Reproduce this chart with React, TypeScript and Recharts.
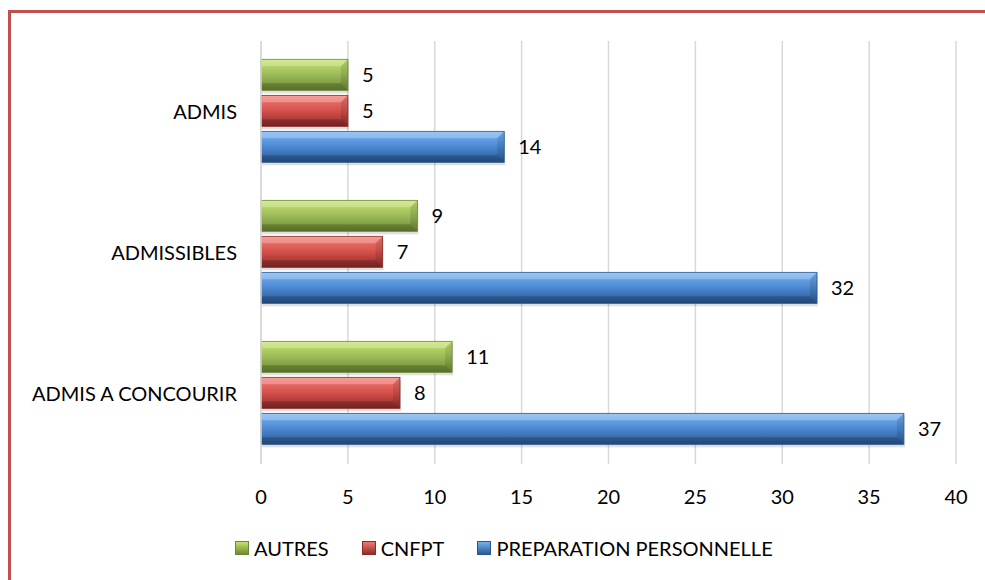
import { BarChart, Bar, XAxis, YAxis, CartesianGrid, LabelList } from 'recharts'

// catégories (de haut en bas)
const categories = ['ADMIS', 'ADMISSIBLES', 'ADMIS A CONCOURIR']
const autres = [5, 9, 11]
const cnfpt = [5, 7, 8]
const preparation = [14, 32, 37]
const xTicks = [0, 5, 10, 15, 20, 25, 30, 35, 40]

const FONT = 'Lato, "Open Sans", sans-serif'
const FS = 20

const series = [
  { key: 'autres', name: 'AUTRES', light: '#c8e46c', base: '#9bbb59', dark: '#6b8632' },
  { key: 'cnfpt', name: 'CNFPT', light: '#f47c74', base: '#d4504b', dark: '#8c2a27' },
  { key: 'prep', name: 'PREPARATION PERSONNELLE', light: '#78b4f2', base: '#4b88d2', dark: '#2a568f' },
]

const data = categories.map((c, i) => ({
  name: c,
  autres: autres[i],
  cnfpt: cnfpt[i],
  prep: preparation[i],
}))

// barre biseautée façon Excel
const BevelBar = (props: any) => {
  const { x, y, width, height, gid } = props
  if (!width || width <= 0) return null
  const b = Math.min(7, height / 4, width / 3)
  const r = x + width
  const bot = y + height
  return (
    <g>
      <rect x={x + 1} y={y + 3} width={width} height={height} fill="#000" opacity={0.12} />
      <rect x={x} y={y} width={width} height={height} fill={`url(#g-${gid})`} />
      <polygon points={`${x},${y} ${r},${y} ${r - b},${y + b} ${x},${y + b}`} fill="#fff" opacity={0.25} />
      <polygon points={`${x},${bot} ${r},${bot} ${r - b},${bot - b} ${x},${bot - b}`} fill="#000" opacity={0.18} />
      <polygon points={`${r},${y} ${r},${bot} ${r - b},${bot - b} ${r - b},${y + b}`} fill="#000" opacity={0.1} />
      <rect x={x} y={y} width={width} height={height} fill="none" stroke={props.edge} strokeWidth={0.8} />
    </g>
  )
}

const LegendBox = ({ s }: { s: (typeof series)[number] }) => (
  <svg width={14} height={14} style={{ marginRight: 5 }}>
    <defs>
      <linearGradient id={`lg-${s.key}`} x1="0" y1="0" x2="0" y2="1">
        <stop offset="0" stopColor={s.light} />
        <stop offset="1" stopColor={s.dark} />
      </linearGradient>
    </defs>
    <rect x={0.5} y={0.5} width={13} height={13} fill={`url(#lg-${s.key})`} stroke={s.dark} />
  </svg>
)

export default function App() {
  return (
    <div style={{ position: 'absolute', left: 0, top: 0, width: 985, height: 580, background: '#fff', overflow: 'hidden', fontFamily: FONT }}>
      <div style={{ position: 'absolute', left: 8, top: 10, width: 1000, height: 620, border: '3px solid #c0504d', boxSizing: 'border-box' }} />
      <BarChart
        width={985}
        height={520}
        data={data}
        layout="vertical"
        margin={{ top: 41, right: 29, bottom: 0, left: 0 }}
        barCategoryGap="13%"
        barGap={5}
        style={{ position: 'absolute', left: 0, top: 0 }}
      >
        <defs>
          {series.map((s) => (
            <linearGradient key={s.key} id={`g-${s.key}`} x1="0" y1="0" x2="0" y2="1">
              <stop offset="0" stopColor={s.light} />
              <stop offset="0.5" stopColor={s.base} />
              <stop offset="1" stopColor={s.dark} />
            </linearGradient>
          ))}
        </defs>
        <CartesianGrid horizontal={false} stroke="#d9d9d9" strokeWidth={1.5} />
        <XAxis
          type="number"
          domain={[0, 40]}
          ticks={xTicks}
          axisLine={false}
          tickLine={false}
          tickMargin={20}
          height={56}
          tick={{ fontSize: FS, fill: '#000', fontFamily: FONT }}
        />
        <YAxis
          type="category"
          dataKey="name"
          width={261}
          axisLine={{ stroke: '#d9d9d9', strokeWidth: 1.5 }}
          tickLine={false}
          tickSize={0}
          tickMargin={24}
          tick={{ fontSize: FS, fill: '#000', fontFamily: FONT }}
        />
        {series.map((s) => (
          <Bar
            key={s.key}
            dataKey={s.key}
            name={s.name}
            isAnimationActive={false}
            shape={(p: any) => <BevelBar {...p} gid={s.key} edge={s.dark} />}
          >
            <LabelList dataKey={s.key} position="right" offset={14} style={{ fontSize: FS, fill: '#000', fontFamily: FONT }} />
          </Bar>
        ))}
      </BarChart>
      <div style={{ position: 'absolute', top: 536, left: 235, display: 'flex', alignItems: 'center', fontSize: FS, color: '#000' }}>
        {series.map((s) => (
          <div key={s.key} style={{ display: 'flex', alignItems: 'center', marginRight: 33 }}>
            <LegendBox s={s} />
            <span>{s.name}</span>
          </div>
        ))}
      </div>
    </div>
  )
}
